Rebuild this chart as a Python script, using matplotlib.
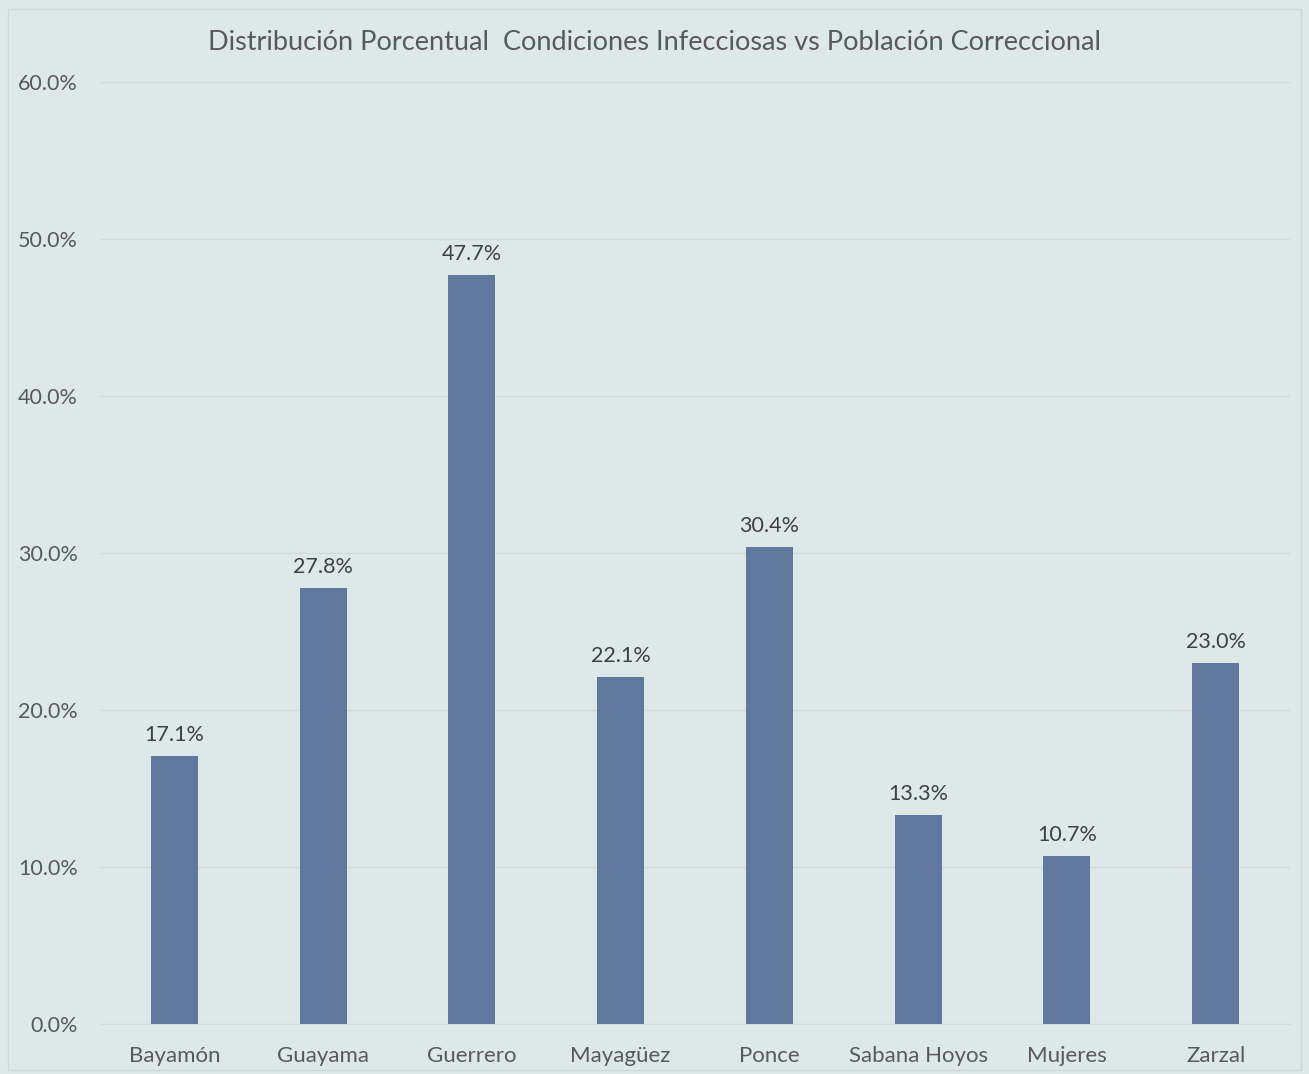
import matplotlib
matplotlib.use("Agg")
import matplotlib.pyplot as plt
from matplotlib.patches import Rectangle
from matplotlib.ticker import PercentFormatter

# ── Data ──────────────────────────────────────────────────────────────────────
instituciones = ["Bayamón", "Guayama", "Guerrero", "Mayagüez", "Ponce",
                 "Sabana Hoyos", "Mujeres", "Zarzal"]
porcentajes = [17.1, 27.8, 47.7, 22.1, 30.4, 13.3, 10.7, 23.0]
y_ticks = [0, 10, 20, 30, 40, 50, 60]

BG = "#dde9e8"
BAR = "#61789e"
GRID = "#d5d8d8"
TXT = "#595959"

plt.rcParams["font.family"] = ["Lato", "DejaVu Sans"]

fig = plt.figure(figsize=(13.09, 10.74), dpi=100, facecolor=BG)
fig.patches.append(Rectangle((8 / 1309, 1 - 1070 / 1074), 1293 / 1309, 1061 / 1074,
                             transform=fig.transFigure, fill=False,
                             edgecolor="#cfd6d6", linewidth=1))
ax = fig.add_axes([100 / 1309, 1 - 1024 / 1074, 1190 / 1309, 942 / 1074])
ax.set_facecolor(BG)

x = range(len(instituciones))
bars = ax.bar(x, porcentajes, width=0.315, color=BAR, zorder=3)

for xi, v in zip(x, porcentajes):
    ax.text(xi, v + 0.7, f"{v:.1f}%", ha="center", va="bottom",
            fontsize=15.5, color="#404040")

ax.set_xlim(-0.5, len(instituciones) - 0.5)
ax.set_ylim(0, 60)
ax.set_yticks(y_ticks)
ax.yaxis.set_major_formatter(PercentFormatter(decimals=1))
ax.set_xticks(list(x))
ax.set_xticklabels(instituciones)
ax.tick_params(axis="y", length=0, labelsize=15.5, labelcolor=TXT, pad=16)
ax.tick_params(axis="x", length=0, labelsize=16, labelcolor=TXT, pad=16)
ax.grid(axis="y", color=GRID, linewidth=1, zorder=0)
for s in ["top", "right", "left"]:
    ax.spines[s].set_visible(False)
ax.spines["bottom"].set_color(GRID)

fig.text(0.5, 1 - 42 / 1074, "Distribución Porcentual  Condiciones Infecciosas vs Población Correccional",
         ha="center", va="center", fontsize=19.5, color=TXT)

fig.savefig("out.png", dpi=100, facecolor=BG)
